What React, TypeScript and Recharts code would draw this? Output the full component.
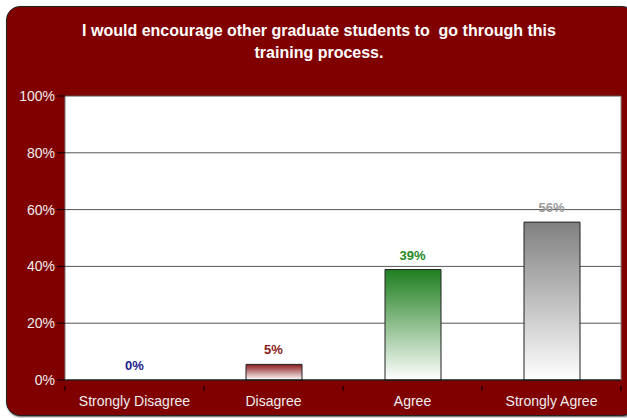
import { ComposedChart, Bar, Line, Cell, XAxis, YAxis, CartesianGrid, LabelList } from 'recharts'

const categories = ['Strongly Disagree', 'Disagree', 'Agree', 'Strongly Agree']
const values = [0, 5.5, 38.9, 55.6]
const valueLabels = ['0%', '5%', '39%', '56%']
const yTicks = [0, 20, 40, 60, 80, 100]

const LABEL_COLORS = ['#1c1c8c', '#8b1a1a', '#1f8a1f', '#9a9a9a']
const TOP_COLORS = ['#8b1a1a', '#8b1a1a', '#1e7e1e', '#808080']

const data = categories.map((name, i) => ({ name, value: values[i], label: valueLabels[i] }))

const FONT = '"Liberation Sans", Arial, sans-serif'

function ValueLabel(props: any) {
  const { x, y, value } = props
  const i = valueLabels.indexOf(value)
  return (
    <text
      x={x}
      y={y - 10}
      textAnchor="middle"
      fill={LABEL_COLORS[i]}
      fontSize={13}
      fontWeight="bold"
      fontFamily={FONT}
    >
      {value}
    </text>
  )
}

// category label plus Excel-style tick marks on the band edges
function CategoryTick(props: any) {
  const { x, y, payload, index } = props
  const half = payload.offset ?? 0
  const last = index === categories.length - 1
  return (
    <g>
      <line x1={x - half} x2={x - half} y1={y} y2={y + 5} stroke="#000" />
      {last && <line x1={x + half} x2={x + half} y1={y} y2={y + 5} stroke="#000" />}
      <text x={x} y={y + 20} textAnchor="middle" fill="#eeeeee" fontSize={14} fontFamily={FONT}>
        {payload.value}
      </text>
    </g>
  )
}

export default function App() {
  return (
    <div style={{ position: 'absolute', left: 0, top: 0, width: 627, height: 418, background: '#fff', overflow: 'hidden' }}>
      <div
        style={{
          position: 'absolute',
          left: 6,
          top: 6,
          width: 628,
          height: 408,
          background: '#800000',
          border: '1px solid #222',
          borderRadius: 14,
          boxShadow: '1px 1px 2px #555',
        }}
      />
      <div
        style={{
          position: 'absolute',
          left: 20,
          top: 20,
          width: 598,
          textAlign: 'center',
          color: '#fff',
          fontFamily: FONT,
          fontWeight: 'bold',
          fontSize: 16,
          lineHeight: '22px',
          whiteSpace: 'pre',
        }}
      >
        {'I would encourage other graduate students to  go through this\ntraining process.'}
      </div>
      <div style={{ position: 'absolute', left: 0, top: 0 }}>
        <ComposedChart
          width={627}
          height={418}
          data={data}
          margin={{ top: 96, right: 5, left: 0, bottom: 0 }}
        >
          <defs>
            {TOP_COLORS.map((c, i) => (
              <linearGradient key={i} id={`grad-${i}`} x1="0" y1="0" x2="0" y2="1">
                <stop offset="0%" stopColor={c} />
                <stop offset="100%" stopColor="#ffffff" />
              </linearGradient>
            ))}
          </defs>
          <CartesianGrid vertical={false} fill="#ffffff" stroke="#555" strokeWidth={1} />
          <XAxis
            dataKey="name"
            tickLine={false}
            axisLine={{ stroke: '#000' }}
            tick={<CategoryTick />}
            tickMargin={0}
            height={38}
            interval={0}
          />
          <YAxis
            domain={[0, 100]}
            ticks={yTicks}
            tickFormatter={(v: number) => `${v}%`}
            axisLine={{ stroke: '#777' }}
            tickLine={{ stroke: '#000' }}
            tickSize={8}
            tickMargin={2}
            tick={{ fill: '#eeeeee', fontSize: 14, fontFamily: FONT }}
            width={65}
            interval={0}
          />
          <YAxis yAxisId="r" orientation="right" width={1} tick={false} tickLine={false} axisLine={{ stroke: '#888' }} domain={[0, 100]} />
          <Bar dataKey="value" isAnimationActive={false} stroke="#222" strokeWidth={1} barSize={56}>
            {data.map((_, i) => (
              <Cell key={`cell-${i}`} fill={`url(#grad-${i})`} />
            ))}
          </Bar>
          <Line dataKey="value" stroke="none" dot={false} activeDot={false} isAnimationActive={false} legendType="none">
            <LabelList dataKey="label" content={<ValueLabel />} />
          </Line>
        </ComposedChart>
      </div>
    </div>
  )
}
